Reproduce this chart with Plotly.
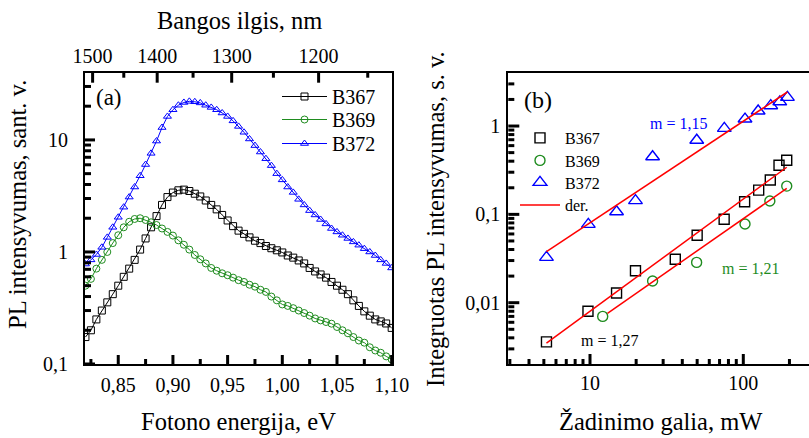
import math
import plotly.graph_objects as go

W, H = 809, 438
SERIF = "Liberation Serif, Times New Roman, serif"

# ---- (a) PL spectra -------------------------------------------------------
energy = [0.820, 0.825, 0.830, 0.835, 0.840, 0.845, 0.850, 0.855, 0.860, 0.865,
          0.870, 0.875, 0.880, 0.885, 0.890, 0.895, 0.900, 0.905, 0.910, 0.915,
          0.920, 0.925, 0.930, 0.935, 0.940, 0.945, 0.950, 0.955, 0.960, 0.965,
          0.970, 0.975, 0.980, 0.985, 0.990, 0.995, 1.000, 1.005, 1.010, 1.015,
          1.020, 1.025, 1.030, 1.035, 1.040, 1.045, 1.050, 1.055, 1.060, 1.065,
          1.070, 1.075, 1.080, 1.085, 1.090, 1.095, 1.100]

pl_b367 = [0.174, 0.20, 0.25, 0.30, 0.355, 0.42, 0.50, 0.60, 0.71, 0.85,
           1.05, 1.32, 1.66, 2.09, 2.63, 3.09, 3.39, 3.55, 3.60, 3.50,
           3.31, 3.13, 2.88, 2.63, 2.40, 2.14, 1.91, 1.70, 1.55, 1.45,
           1.35, 1.26, 1.20, 1.13, 1.08, 1.035, 0.99, 0.93, 0.89, 0.84,
           0.79, 0.72, 0.67, 0.63, 0.59, 0.54, 0.50, 0.46, 0.42, 0.37,
           0.33, 0.295, 0.27, 0.25, 0.24, 0.23, 0.21]

pl_b369 = [0.50, 0.575, 0.71, 0.85, 1.00, 1.20, 1.41, 1.66, 1.86, 1.97,
           2.00, 1.93, 1.84, 1.74, 1.62, 1.51, 1.40, 1.27, 1.16, 1.05,
           0.94, 0.86, 0.79, 0.72, 0.68, 0.645, 0.62, 0.59, 0.56, 0.54,
           0.51, 0.49, 0.46, 0.44, 0.40, 0.37, 0.34, 0.33, 0.315, 0.30,
           0.285, 0.27, 0.255, 0.245, 0.237, 0.229, 0.214, 0.20, 0.188, 0.174,
           0.162, 0.155, 0.141, 0.132, 0.126, 0.117, 0.11]

pl_b372 = [0.78, 0.85, 0.95, 1.10, 1.35, 1.66, 2.04, 2.51, 3.09, 3.80,
           4.79, 6.03, 7.59, 9.77, 12.9, 16.2, 18.6, 20.4, 21.6, 22.1,
           21.9, 21.4, 20.4, 19.5, 18.6, 17.4, 16.2, 14.8, 13.2, 11.7,
           10.2, 8.9, 7.8, 6.8, 5.9, 5.0, 4.4, 3.8, 3.4, 2.95,
           2.63, 2.34, 2.14, 1.95, 1.78, 1.62, 1.51, 1.41, 1.32, 1.23,
           1.15, 1.07, 1.00, 0.93, 0.85, 0.79, 0.72]

energy_ticks = [0.85, 0.90, 0.95, 1.00, 1.05, 1.10]
energy_ticktext = ["0,85", "0,90", "0,95", "1,00", "1,05", "1,10"]
energy_minor = [0.825, 0.875, 0.925, 0.975, 1.025, 1.075]

wavelength_ticks = [1500, 1400, 1300, 1200]
wavelength_minor = [1450, 1350, 1250, 1150]
HC_EV_NM = 1239.84  # photon energy (eV) = HC / wavelength (nm)

pl_ticks = [0.1, 1, 10]
pl_ticktext = ["0,1", "1", "10"]
pl_minor = [0.2, 0.3, 0.4, 0.5, 0.6, 0.7, 0.8, 0.9,
            2, 3, 4, 5, 6, 7, 8, 9, 20, 30]

# ---- (b) integrated PL vs excitation power ---------------------------------
power_b367 = [5.2, 9.7, 14.9, 19.8, 36, 50, 75, 102, 126, 150, 171, 192]
ipl_b367 = [0.0036, 0.008, 0.0129, 0.023, 0.031, 0.058, 0.088, 0.139,
            0.188, 0.245, 0.36, 0.41]

power_b369 = [12.1, 25.6, 49.6, 102.6, 149, 192]
ipl_b369 = [0.0070, 0.0176, 0.0286, 0.0777, 0.1415, 0.209]

power_b372 = [5.2, 9.75, 14.9, 19.8, 25.6, 49.7, 75.2, 102.6, 125, 151, 173, 194]
ipl_b372 = [0.0326, 0.077, 0.107, 0.143, 0.449, 0.69, 0.94, 1.2, 1.48,
            1.70, 1.88, 2.11]

# power-law fits I = A * P^m
fit_m = {"B367": 1.27, "B369": 1.21, "B372": 1.15}
fit_amp = {"B367": 0.00043, "B369": 0.00034, "B372": 0.00568}
fit_span = {"B367": (5.2, 192), "B369": (13, 192), "B372": (5.2, 194)}

power_ticks = [10, 100]
power_minor = [3, 4, 5, 6, 7, 8, 9, 20, 30, 40, 50, 60, 70, 80, 90, 200]
ipl_ticks = [0.01, 0.1, 1]
ipl_ticktext = ["0,01", "0,1", "1"]
ipl_minor = [0.003, 0.004, 0.005, 0.006, 0.007, 0.008, 0.009,
             0.02, 0.03, 0.04, 0.05, 0.06, 0.07, 0.08, 0.09,
             0.2, 0.3, 0.4, 0.5, 0.6, 0.7, 0.8, 0.9, 2, 3]

BLACK, GREEN, BLUE, RED = "#000000", "#1f8c1f", "#0000ff", "#ff0000"

# one single-entry legend per row, so each row sits where it should
LEFT_LEGENDS = {"B367": ("legend", 77), "B369": ("legend3", 100), "B372": ("legend4", 124)}
RIGHT_LEGENDS = {"B367": ("legend2", 121), "B369": ("legend5", 143.5),
                 "B372": ("legend6", 165.5), "der.": ("legend7", 188)}

fig = go.Figure()

# spectra
for name, vals, sym, col in [("B367", pl_b367, "square-open", BLACK),
                             ("B369", pl_b369, "circle-open", GREEN),
                             ("B372", pl_b372, "triangle-up-open", BLUE)]:
    fig.add_trace(go.Scatter(
        x=energy, y=vals, name=name, mode="lines+markers",
        xaxis="x", yaxis="y", legend=LEFT_LEGENDS[name][0],
        line=dict(color=col, width=1),
        marker=dict(symbol=sym, size=7, color=col, line=dict(width=1, color=col)),
    ))

# power dependence
for name, px, py, sym, col, sz in [("B367", power_b367, ipl_b367, "square-open", BLACK, 10),
                                   ("B369", power_b369, ipl_b369, "circle-open", GREEN, 10),
                                   ("B372", power_b372, ipl_b372, "triangle-up-open", BLUE, 12)]:
    fig.add_trace(go.Scatter(
        x=px, y=py, name=name, mode="markers",
        xaxis="x3", yaxis="y2", legend=RIGHT_LEGENDS[name][0],
        marker=dict(symbol=sym, size=sz, color=col, line=dict(width=1.4, color=col)),
    ))

for i, name in enumerate(["B367", "B369", "B372"]):
    p0, p1 = fit_span[name]
    fx = [p0, p1]
    fy = [fit_amp[name] * p ** fit_m[name] for p in fx]
    fig.add_trace(go.Scatter(
        x=fx, y=fy, name="der.", mode="lines",
        xaxis="x3", yaxis="y2", legend=RIGHT_LEGENDS["der."][0],
        showlegend=(i == 0),
        line=dict(color=RED, width=1.5),
    ))

# empty trace so the wavelength axis gets laid out on top of panel (a)
fig.add_trace(go.Scatter(x=[None], y=[None], xaxis="x2", yaxis="y",
                         showlegend=False, hoverinfo="skip"))

tickfont = dict(family=SERIF, size=20, color="black")
base = dict(showgrid=False, zeroline=False, showline=True, linecolor="black",
            linewidth=2, ticks="", tickfont=tickfont, automargin=False,
            tickmode="array")

E_RANGE = [0.8196, 1.1003]
PL_RANGE = [-1, 1.6]
P_RANGE = [0.467, 2.4286]
I_RANGE = [-2.694, 0.597]
LEFT_DOM = [85 / W, 392 / W]
RIGHT_DOM = [508.3 / W, 1.0]
LEFT_YDOM = [1 - 364 / H, 1 - 72.7 / H]
RIGHT_YDOM = [1 - 364 / H, 1 - 73.3 / H]

layout = dict(
    width=W, height=H, template="none",
    margin=dict(l=0, r=0, t=0, b=0),
    paper_bgcolor="white", plot_bgcolor="white",
    font=dict(family=SERIF, color="black"),
    showlegend=True,
    xaxis=dict(base, domain=LEFT_DOM, anchor="y", range=E_RANGE,
               tickvals=energy_ticks, ticktext=energy_ticktext,
               ticklabelstandoff=2, mirror=False),
    xaxis2=dict(base, overlaying="x", side="top", anchor="y", range=E_RANGE,
                tickvals=[HC_EV_NM / w for w in wavelength_ticks],
                ticktext=[str(w) for w in wavelength_ticks]),
    yaxis=dict(base, domain=LEFT_YDOM, anchor="x", type="log",
               range=PL_RANGE, tickvals=pl_ticks, ticktext=pl_ticktext,
               ticklabelstandoff=11, mirror=True),
    xaxis3=dict(base, domain=RIGHT_DOM, anchor="y2", type="log", range=P_RANGE,
                tickvals=power_ticks, ticktext=["10", "100"], mirror=True),
    yaxis2=dict(base, domain=RIGHT_YDOM, anchor="x3", type="log",
                range=I_RANGE, tickvals=ipl_ticks, ticktext=ipl_ticktext,
                ticklabelstandoff=2),
)

for name, (key, top) in LEFT_LEGENDS.items():
    layout[key] = dict(x=277 / W, y=1 - top / H, xanchor="left", yanchor="top",
                       bgcolor="rgba(0,0,0,0)", borderwidth=0,
                       font=dict(family=SERIF, size=20, color="black"), itemwidth=45)
for name, (key, top) in RIGHT_LEGENDS.items():
    layout[key] = dict(x=515 / W, y=1 - top / H, xanchor="left", yanchor="top",
                       bgcolor="rgba(0,0,0,0)", borderwidth=0,
                       font=dict(family=SERIF, size=16, color="black"), itemwidth=40)

fig.update_layout(**layout)

# Inward tick marks drawn as paper-referenced segments; each tick's position
# comes from its value mapped through the axis range onto the axis domain.
TICK = dict(color="black", width=3)


def frac(v, rng, log=False):
    u = math.log10(v) if log else v
    return (u - rng[0]) / (rng[1] - rng[0])


def xticks(vals, rng, xdom, ydom, length, log=False, top=False):
    for v in vals:
        px = xdom[0] + frac(v, rng, log) * (xdom[1] - xdom[0])
        y_edge = ydom[1] if top else ydom[0]
        dy = (-length if top else length) / H
        fig.add_shape(type="line", xref="paper", yref="paper",
                      x0=px, x1=px, y0=y_edge, y1=y_edge + dy,
                      line=TICK, layer="above")


def yticks(vals, rng, xdom, ydom, length, log=True):
    for v in vals:
        py = ydom[0] + frac(v, rng, log) * (ydom[1] - ydom[0])
        fig.add_shape(type="line", xref="paper", yref="paper",
                      x0=xdom[0], x1=xdom[0] + length / W, y0=py, y1=py,
                      line=TICK, layer="above")


wl_major = [HC_EV_NM / w for w in wavelength_ticks]
wl_minor = [HC_EV_NM / w for w in wavelength_minor]
xticks(energy_ticks, E_RANGE, LEFT_DOM, LEFT_YDOM, 9)
xticks(energy_minor, E_RANGE, LEFT_DOM, LEFT_YDOM, 5)
xticks(wl_major, E_RANGE, LEFT_DOM, LEFT_YDOM, 10, top=True)
xticks(wl_minor, E_RANGE, LEFT_DOM, LEFT_YDOM, 5, top=True)
yticks(pl_ticks, PL_RANGE, LEFT_DOM, LEFT_YDOM, 10)
yticks(pl_minor, PL_RANGE, LEFT_DOM, LEFT_YDOM, 6)
xticks(power_ticks, P_RANGE, RIGHT_DOM, RIGHT_YDOM, 10, log=True)
xticks(power_minor, P_RANGE, RIGHT_DOM, RIGHT_YDOM, 5, log=True)
yticks(ipl_ticks, I_RANGE, RIGHT_DOM, RIGHT_YDOM, 11)
yticks(ipl_minor, I_RANGE, RIGHT_DOM, RIGHT_YDOM, 6)

title_font = dict(family=SERIF, size=24.5, color="black")
ann = [
    dict(text="Bangos ilgis, nm", x=239, y=20, font=title_font),
    dict(text="Fotono energija, eV", x=238.5, y=421, font=title_font),
    dict(text="Žadinimo galia, mW", x=661, y=421, font=title_font),
    dict(text="PL intensyvumas, sant. v.", x=18, y=205, font=title_font, textangle=-90),
    dict(text="Integruotas PL intensyvumas, s. v.", x=435, y=219, font=title_font, textangle=-90),
    dict(text="(a)", x=109, y=98, font=dict(family=SERIF, size=23, color="black")),
    dict(text="(b)", x=538, y=100, font=dict(family=SERIF, size=24, color="black")),
    dict(text="m = 1,15", x=678, y=123, font=dict(family=SERIF, size=16, color=BLUE)),
    dict(text="m = 1,21", x=750, y=268, font=dict(family=SERIF, size=16, color=GREEN)),
    dict(text="m = 1,27", x=609, y=340, font=dict(family=SERIF, size=16, color=BLACK)),
]
for a in ann:
    fig.add_annotation(xref="paper", yref="paper", x=a["x"] / W, y=1 - a["y"] / H,
                       xanchor="center", yanchor="middle", showarrow=False,
                       text=a["text"], font=a["font"], textangle=a.get("textangle", 0))

fig.write_html("out.html")
